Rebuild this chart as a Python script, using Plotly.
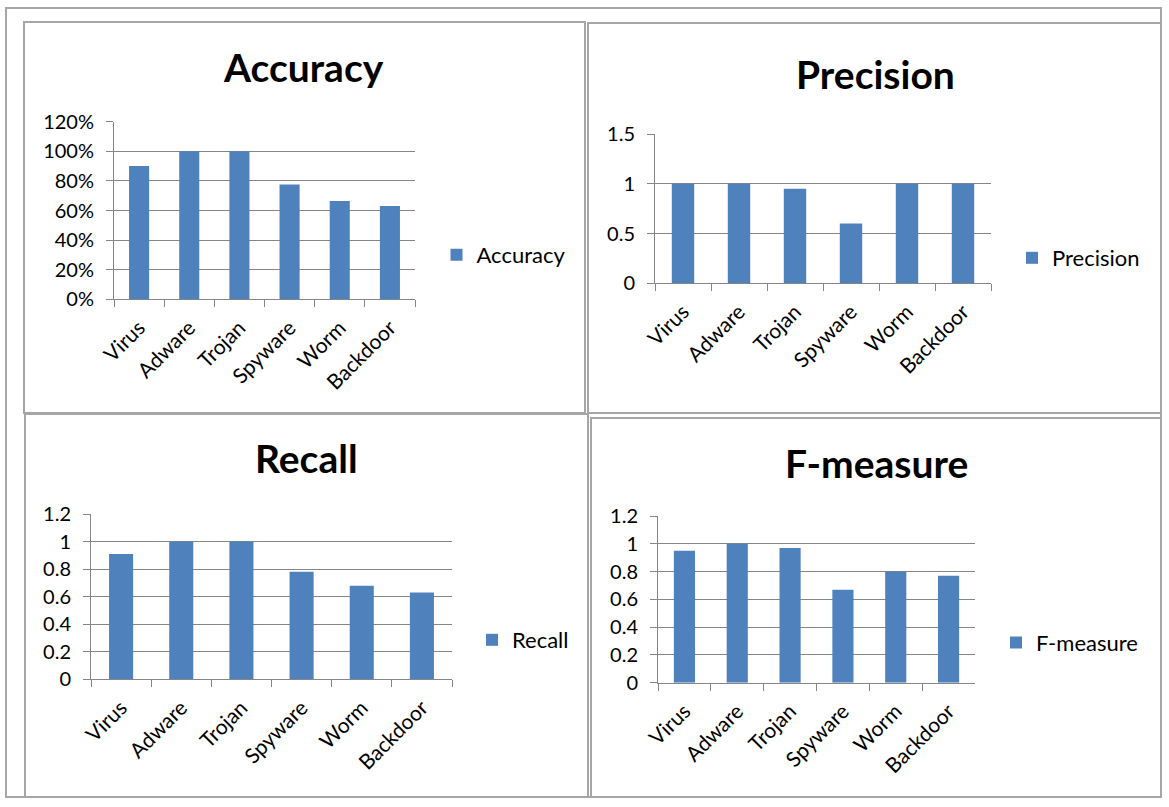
import plotly.graph_objects as go

# ---------------- data ----------------
categories = ["Virus", "Adware", "Trojan", "Spyware", "Worm", "Backdoor"]
accuracy = [0.90, 1.00, 1.00, 0.775, 0.665, 0.63]
precision = [1.00, 1.00, 0.95, 0.60, 1.00, 1.00]
recall = [0.91, 1.00, 1.00, 0.78, 0.68, 0.63]
fmeasure = [0.95, 1.00, 0.97, 0.67, 0.80, 0.77]

titles = ["Accuracy", "Precision", "Recall", "F-measure"]
series = [accuracy, precision, recall, fmeasure]
y_ranges = [[0, 1.2], [0, 1.5], [0, 1.2], [0, 1.2]]
y_dticks = [0.2, 0.5, 0.2, 0.2]
y_formats = [".0%", "", "", ""]

# ---------------- layout constants (pixels) ----------------
W, H = 1169, 807
BAR = "#4F81BD"
GRID = "#868686"
BORDER = "#a6a6a6"
FONT = "Lato"

# plot areas: (x0, x1, ytop, ybottom)
areas = [(114, 415, 121.7, 299.3),
         (655, 991, 134.0, 283.3),
         (91, 452, 514.0, 679.3),
         (658, 975, 516.0, 682.7)]
# title centres
title_pos = [(303.5, 67), (875, 74), (306, 458), (876, 463)]
# legend square centres
legend_pos = [(459.5, 255), (1035, 258), (495, 640), (1019, 642.7)]
# panel borders (x0, y0, x1, y1)
panels = [(24, 22, 585, 413), (588, 23, 1161, 413),
          (25, 414, 588, 797), (591, 418, 1161, 797)]
outer = (6, 8, 1161, 797)


def px(x):
    return x / W


def py(y):
    return 1 - y / H


fig = go.Figure()
annotations = []
shapes = []
layout = {}

for i, (name, vals) in enumerate(zip(titles, series)):
    n = "" if i == 0 else str(i + 1)
    fig.add_trace(go.Bar(
        x=categories, y=vals, name=name,
        marker=dict(color=BAR, line=dict(width=0)),
        xaxis="x" + n, yaxis="y" + n,
        legend="legend" + n,
        showlegend=True,
    ))
    x0, x1, yt, yb = areas[i]
    layout["xaxis" + n] = dict(
        domain=[px(x0), px(x1)], anchor="y" + n, type="category",
        showline=True, linecolor=GRID, linewidth=1,
        ticks="outside", tickson="boundaries", ticklen=7, tickcolor=GRID,
        tickangle=-45, tickfont=dict(family=FONT, size=21, color="#000"),
        showgrid=False, fixedrange=True, ticklabelstandoff=7,
        automargin=False,
    )
    layout["yaxis" + n] = dict(
        domain=[py(yb), py(yt)], anchor="x" + n,
        range=y_ranges[i], dtick=y_dticks[i], tick0=0,
        tickformat=y_formats[i],
        showline=True, linecolor=GRID, linewidth=1,
        showgrid=True, gridcolor=GRID, gridwidth=1,
        zeroline=False,
        ticks="outside", ticklen=7, tickcolor=GRID,
        tickfont=dict(family=FONT, size=20, color="#000"),
        ticklabelstandoff=8, fixedrange=True,
        automargin=False,
    )
    lx, ly = legend_pos[i]
    layout["legend" + n] = dict(
        x=px(lx - 23), y=py(ly), xanchor="left", yanchor="middle",
        font=dict(family=FONT, size=22, color="#000"),
        bgcolor="rgba(0,0,0,0)", borderwidth=0,
        itemwidth=30, tracegroupgap=0,
    )
    tx, ty = title_pos[i]
    annotations.append(dict(
        text=name, x=px(tx), y=py(ty), xref="paper", yref="paper",
        xanchor="center", yanchor="middle", showarrow=False,
        font=dict(family=FONT, size=39, color="#000", weight="bold"),
    ))

for (a, b, c, d) in [outer] + panels:
    shapes.append(dict(
        type="rect", xref="paper", yref="paper",
        x0=px(a), x1=px(c), y0=py(d), y1=py(b),
        line=dict(color=BORDER, width=2), layer="below",
    ))

fig.update_layout(
    width=W, height=H,
    margin=dict(l=0, r=0, t=0, b=0, pad=0, autoexpand=False),
    paper_bgcolor="white", plot_bgcolor="white",
    bargap=0.6,
    annotations=annotations, shapes=shapes,
    **layout,
)

fig.write_html(
    "out.html",
    config={"displayModeBar": False},
    post_script="document.body.style.margin='0';document.body.style.overflow='hidden';",
)
